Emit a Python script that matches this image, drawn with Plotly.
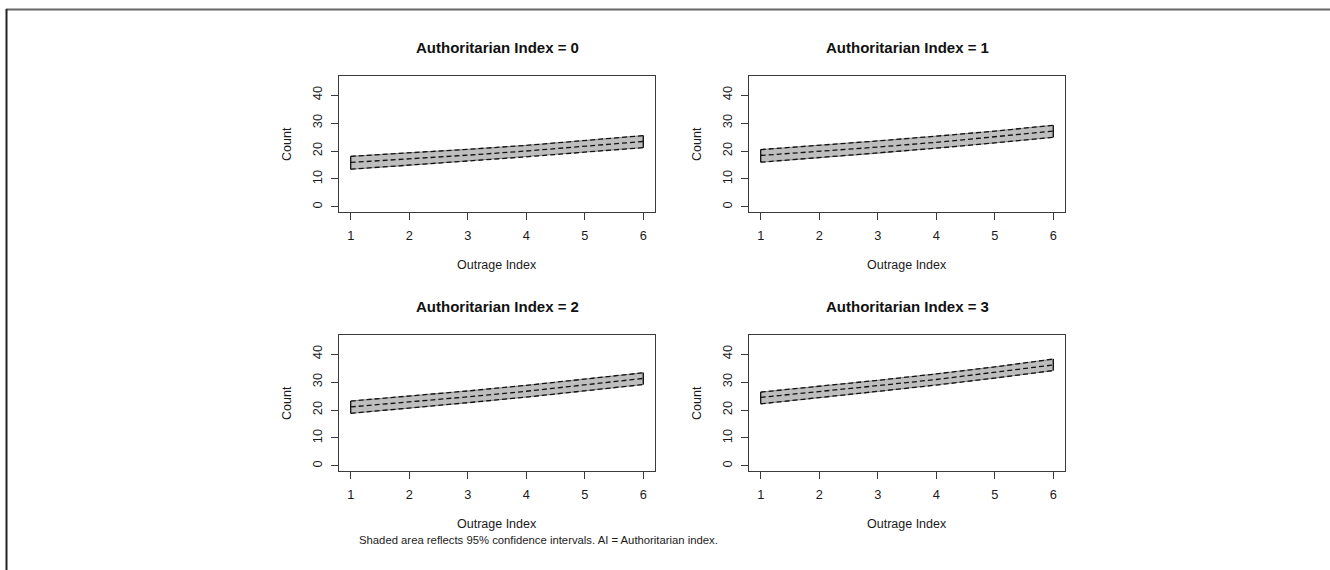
import plotly.graph_objects as go

W, H = 1330, 570

outrage = [1, 2, 3, 4, 5, 6]
titles = ["Authoritarian Index = 0", "Authoritarian Index = 1",
          "Authoritarian Index = 2", "Authoritarian Index = 3"]

mean_ai0 = [15.9, 17.1, 18.5, 20.0, 21.6, 23.4]
upper_ai0 = [18.1, 19.3, 20.6, 22.0, 23.7, 25.5]
lower_ai0 = [13.5, 14.9, 16.3, 17.9, 19.6, 21.2]

mean_ai1 = [18.4, 19.8, 21.4, 23.1, 25.0, 27.1]
upper_ai1 = [20.5, 22.0, 23.6, 25.3, 27.1, 29.2]
lower_ai1 = [16.0, 17.6, 19.2, 21.0, 22.9, 24.9]

mean_ai2 = [21.1, 22.8, 24.7, 26.7, 28.9, 31.3]
upper_ai2 = [23.2, 24.9, 26.8, 28.8, 31.0, 33.3]
lower_ai2 = [18.8, 20.6, 22.6, 24.6, 26.8, 29.1]

mean_ai3 = [24.5, 26.5, 28.7, 30.9, 33.4, 36.1]
upper_ai3 = [26.4, 28.4, 30.6, 32.9, 35.4, 38.2]
lower_ai3 = [22.2, 24.4, 26.6, 28.9, 31.4, 34.1]

means = [mean_ai0, mean_ai1, mean_ai2, mean_ai3]
uppers = [upper_ai0, upper_ai1, upper_ai2, upper_ai3]
lowers = [lower_ai0, lower_ai1, lower_ai2, lower_ai3]

y_ticks = [0, 10, 20, 30, 40]
x_ticks = [1, 2, 3, 4, 5, 6]

FONT = "Liberation Sans, Arial, sans-serif"

# panel boxes in pixels: (left, right, top, bottom)
boxes = [(339, 655, 76, 212), (749, 1065, 76, 212),
         (339, 655, 335, 471), (749, 1065, 335, 471)]

fig = go.Figure()
annotations = []
for i in range(4):
    xa = "x" if i == 0 else f"x{i+1}"
    ya = "y" if i == 0 else f"y{i+1}"
    up, lo, mn = uppers[i], lowers[i], means[i]
    fig.add_trace(go.Scatter(
        x=outrage + outrage[::-1], y=up + lo[::-1], fill="toself",
        fillcolor="#BEBEBE", line=dict(color="#8a8a8a", width=1),
        mode="lines", xaxis=xa, yaxis=ya, showlegend=False, hoverinfo="skip"))
    # solid end caps of the band
    for xe, k in ((outrage[0], 0), (outrage[-1], -1)):
        fig.add_trace(go.Scatter(
            x=[xe, xe], y=[lo[k], up[k]], mode="lines",
            line=dict(color="#111111", width=1.3),
            xaxis=xa, yaxis=ya, showlegend=False, hoverinfo="skip"))
    for s in (up, lo, mn):
        fig.add_trace(go.Scatter(
            x=outrage, y=s, mode="lines",
            line=dict(color="#111111", width=1.3, dash="5px,3px"),
            xaxis=xa, yaxis=ya, showlegend=False))
    l, r, t, b = boxes[i]
    xd = [l / W, r / W]
    yd = [1 - b / H, 1 - t / H]
    axcommon = dict(showgrid=False, zeroline=False, showline=True, mirror=True,
                    linecolor="#3a3a3a", linewidth=1, ticks="outside", ticklen=7,
                    tickcolor="#3a3a3a", tickwidth=1,
                    tickfont=dict(family=FONT, size=12.8, color="#1a1a1a"))
    fig.layout[("xaxis" if i == 0 else f"xaxis{i+1}")] = dict(
        domain=xd, range=[0.8, 6.2], tickvals=x_ticks, anchor=ya,
        ticklabelstandoff=5, **axcommon)
    fig.layout[("yaxis" if i == 0 else f"yaxis{i+1}")] = dict(
        domain=yd, range=[-1.8, 46.8], tickvals=y_ticks, anchor=xa,
        tickangle=-90, ticklabelstandoff=4, **axcommon)
    cx = (l + r) / 2
    annotations.append(dict(text="<b>" + titles[i] + "</b>", x=cx / W, y=1 - (t - 29) / H,
                            xref="paper", yref="paper", showarrow=False,
                            xanchor="center", yanchor="middle",
                            font=dict(family=FONT, size=15, color="#111111")))
    annotations.append(dict(text="Outrage Index", x=cx / W, y=1 - (b + 53) / H,
                            xref="paper", yref="paper", showarrow=False,
                            xanchor="center", yanchor="middle",
                            font=dict(family=FONT, size=12.5, color="#1a1a1a")))
    annotations.append(dict(text="Count", x=(l - 52) / W, y=1 - ((t + b) / 2) / H,
                            xref="paper", yref="paper", showarrow=False, textangle=-90,
                            xanchor="center", yanchor="middle",
                            font=dict(family=FONT, size=12.5, color="#1a1a1a")))

annotations.append(dict(text="Shaded area reflects 95% confidence intervals. AI = Authoritarian index.",
                        x=538 / W, y=1 - 540 / H, xref="paper", yref="paper",
                        showarrow=False, xanchor="center", yanchor="middle",
                        font=dict(family=FONT, size=11.3, color="#1a1a1a")))

shapes = [
    dict(type="line", xref="paper", yref="paper", x0=6 / W, x1=1, y0=1 - 9.5 / H, y1=1 - 9.5 / H,
         line=dict(color="#666666", width=2)),
    dict(type="line", xref="paper", yref="paper", x0=6.5 / W, x1=6.5 / W, y0=0, y1=1 - 9 / H,
         line=dict(color="#222222", width=2)),
]

fig.update_layout(width=W, height=H, margin=dict(l=0, r=0, t=0, b=0),
                  paper_bgcolor="white", plot_bgcolor="white",
                  annotations=annotations, shapes=shapes, showlegend=False)

fig.write_html("out.html", config={"displayModeBar": False},
               post_script="document.body.style.margin='0px';document.body.style.overflow='hidden';")
